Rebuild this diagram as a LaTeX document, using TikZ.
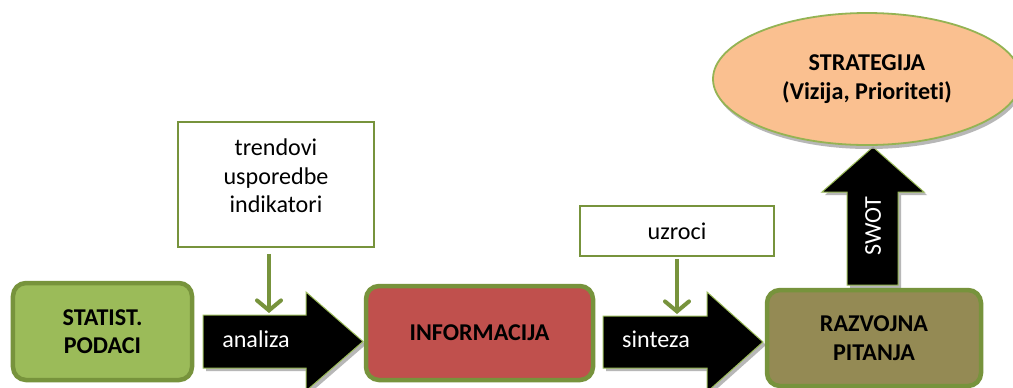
\documentclass[tikz,border=0pt]{standalone}
\usepackage{fontspec}
\setmainfont{Carlito}[Ligatures={NoCommon}]
\usetikzlibrary{shapes.geometric,shadows,arrows.meta}
\definecolor{gfill}{HTML}{9BBB59}
\definecolor{gline}{HTML}{77933C}
\definecolor{rfill}{HTML}{C0504D}
\definecolor{ofill}{HTML}{948A54}
\definecolor{orfill}{HTML}{FAC090}
\tikzset{
  txt/.style={font=\fontsize{24.2}{28.5}\selectfont, align=center, inner sep=0pt},
  roundbox/.style={txt, font=\fontsize{24.2}{28.5}\selectfont\bfseries, draw=gline, line width=4.5bp, rounded corners=13bp},
  plainbox/.style={draw=gline, line width=1.8bp, fill=white, inner sep=0pt},
  blockarrow/.style={fill=black, draw=gfill, line width=1bp, drop shadow={shadow xshift=3bp, shadow yshift=-3bp, fill=black!35, opacity=0.8}},
  conn/.style={draw=gline, line width=4bp, -{Straight Barb[length=10bp, width=24bp, line cap=round]}},
  wtxt/.style={txt, text=white}
}
\begin{document}
\begin{tikzpicture}[x=1bp, y=-1bp]
\useasboundingbox (0,0) rectangle (1013,387);
\fill[white] (0,0) rectangle (1013,387);

% block arrows
\path[blockarrow] (203,315) -- (306,315) -- (306,292) -- (363,341.5) -- (306,391) -- (306,368) -- (203,368) -- cycle;
\path[blockarrow] (603,316) -- (707,316) -- (707,292) -- (763,342) -- (707,392) -- (707,368) -- (603,368) -- cycle;
\path[blockarrow] (847,285) -- (847,192) -- (822,192) -- (873,147) -- (924,192) -- (898,192) -- (898,285) -- cycle;

\node[wtxt] (analiza) at (256,339) {analiza};
\node[wtxt] (sinteza) at (656,339) {sinteza};
\node[wtxt, rotate=90] (swot) at (873,226) {SWOT};

% main boxes
\node[roundbox, fill=gfill, minimum width=179bp, minimum height=97bp] (stat) at (102.5,331.5) {STATIST.\\PODACI};
\node[roundbox, fill=rfill, minimum width=227bp, minimum height=94bp] (info) at (479.5,333) {INFORMACIJA};
\node[roundbox, fill=ofill, minimum width=214bp, minimum height=96bp] (razv) at (874,338) {RAZVOJNA\\PITANJA};

% ellipse
\node[ellipse, txt, font=\fontsize{24.2}{28.5}\selectfont\bfseries, fill=orfill, draw=gfill!80!gline, line width=1.8bp, minimum width=308bp, minimum height=132bp, drop shadow={shadow xshift=2bp, shadow yshift=-4bp, fill=black!35, opacity=0.8}] (strat) at (867,79) {STRATEGIJA\\(Vizija, Prioriteti)};

% text boxes
\node[plainbox, minimum width=196bp, minimum height=125bp] (trend) at (276,184.5) {};
\node[txt] (trendtxt) at (276,176) {trendovi\\usporedbe\\indikatori};
\node[plainbox, minimum width=194bp, minimum height=50bp] (uzr) at (677,231) {};
\node[txt] (uzrtxt) at (677,231) {uzroci};

% connectors
\coordinate (anatop) at (269,313);
\coordinate (sintop) at (677,314);
\draw[conn] ([yshift=-6bp]trend.south -| anatop) -- (anatop);
\draw[conn] ([yshift=-2bp]uzr.south) -- (sintop);
\end{tikzpicture}
\end{document}
